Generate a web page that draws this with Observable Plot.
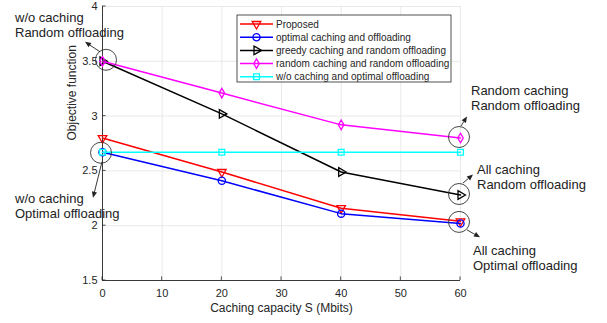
<!DOCTYPE html>
<html>
<head>
<meta charset="utf-8">
<script src="https://cdn.jsdelivr.net/npm/d3@7"></script>
<script src="https://cdn.jsdelivr.net/npm/@observablehq/plot@0.6"></script>
<style>
  html, body { margin: 0; padding: 0; background: #fff; }
  #chart { position: relative; width: 607px; height: 323px; }
  svg { font-family: "Liberation Sans", Arial, sans-serif; }
</style>
</head>
<body>
<div id="chart"></div>
<script>
// ---- data ----
const xValues = [0, 20, 40, 60];
const proposed = [2.80, 2.49, 2.16, 2.04];
const optimalCO = [2.67, 2.41, 2.11, 2.02];
const greedyCR = [3.50, 3.02, 2.49, 2.28];
const randomCR = [3.50, 3.21, 2.92, 2.80];
const noCachingOpt = [2.67, 2.67, 2.67, 2.67];
const seriesNames = [
  "Proposed",
  "optimal caching and offloading",
  "greedy caching and random offloading",
  "random caching and random offloading",
  "w/o caching and optimal offloading"
];
const seriesColors = ["#ff0000", "#0000ff", "#000000", "#ff00ff", "#00ffff"];
const xTicks = [0, 10, 20, 30, 40, 50, 60];
const yTicks = [1.5, 2, 2.5, 3, 3.5, 4];
const xLabel = "Caching capacity S (Mbits)";
const yLabel = "Objective function";

// annotations: data point, circle offset, arrow start/end offsets, text offset & lines
const annotations = [
  {x: 0, y: 3.5, c: [4, -1], a0: [-2, -9], a1: [-17, -19], t: [-87, -39], lines: ["w/o caching", "Random offloading"]},
  {x: 0, y: 2.67, c: [-1, 1], a0: [0, 10], a1: [-9, 46], t: [-87, 51], lines: ["w/o caching", "Optimal offloading"]},
  {x: 60, y: 2.80, c: [-1, -0.5], a0: [1, -11.5], a1: [7, -21], t: [11, -43], lines: ["Random caching", "Random offloading"]},
  {x: 60, y: 2.28, c: [-1, -0.5], a0: [3, -11.5], a1: [13, -20], t: [17, -21], lines: ["All caching", "Random offloading"]},
  {x: 60, y: 2.03, c: [-1, 0], a0: [7, 8], a1: [20, 15.4], t: [13, 33], lines: ["All caching", "Optimal offloading"]}
];

// ---- symbols ----
const sqrt3 = Math.sqrt(3);
const triangleDown = {
  draw(ctx, size) {
    const y = -Math.sqrt(size / (sqrt3 * 3));
    ctx.moveTo(0, -y * 2);
    ctx.lineTo(-sqrt3 * y, y);
    ctx.lineTo(sqrt3 * y, y);
    ctx.closePath();
  }
};
const triangleRight = {
  draw(ctx, size) {
    const y = -Math.sqrt(size / (sqrt3 * 3));
    ctx.moveTo(-y * 2, 0);
    ctx.lineTo(y, sqrt3 * y);
    ctx.lineTo(y, -sqrt3 * y);
    ctx.closePath();
  }
};
const seriesSymbols = [triangleDown, d3.symbolCircle, triangleRight, d3.symbolDiamond, d3.symbolSquare];
const seriesR = [3.2, 3.6, 3.2, 2.9, 3.3];
const allValues = [proposed, optimalCO, greedyCR, randomCR, noCachingOpt];

const rows = [];
allValues.forEach((vals, i) => vals.forEach((v, j) => rows.push({series: seriesNames[i], x: xValues[j], y: v})));

const gridColor = "#e3e3e3";
const axisColor = "#262626";

const marks = [
  Plot.ruleX(xTicks, {stroke: gridColor, strokeWidth: 0.8}),
  Plot.ruleY(yTicks, {stroke: gridColor, strokeWidth: 0.8}),
  Plot.ruleX([0], {stroke: axisColor, strokeWidth: 0.9}),
  Plot.ruleY([1.5], {stroke: axisColor, strokeWidth: 0.9}),
  Plot.axisX({ticks: xTicks, tickSize: 0, tickPadding: 9, fontSize: 11, color: axisColor, label: null, tickFormat: d => String(d)}),
  Plot.axisY({ticks: yTicks, tickSize: 0, tickPadding: 5, fontSize: 11, color: axisColor, label: null, tickFormat: d => String(d)}),
  Plot.text([xLabel], {frameAnchor: "bottom", lineAnchor: "middle", dy: 28, fontSize: 12, fill: axisColor}),
  Plot.text([yLabel], {frameAnchor: "left", lineAnchor: "middle", dx: -30, dy: -3, rotate: -90, fontSize: 12, fill: axisColor})
];
seriesNames.forEach((name, i) => {
  const data = rows.filter(r => r.series === name);
  marks.push(Plot.line(data, {x: "x", y: "y", stroke: seriesColors[i], strokeWidth: 1.5}));
  marks.push(Plot.dot(data, {x: "x", y: "y", symbol: seriesSymbols[i], r: seriesR[i], stroke: seriesColors[i], strokeWidth: 1.3, fill: "none"}));
});

const plot = Plot.plot({
  width: 607,
  height: 323,
  marginLeft: 102,
  marginRight: 147,
  marginTop: 6,
  marginBottom: 43,
  x: {type: "linear", domain: [0, 60]},
  y: {type: "linear", domain: [1.5, 4]},
  style: {fontFamily: "'Liberation Sans', Arial, sans-serif", background: "#fff"},
  marks
});
document.getElementById("chart").appendChild(plot);

const svg = d3.select(plot);
const sx = plot.scale("x").apply, sy = plot.scale("y").apply;

// inward ticks
const tickG = svg.append("g").attr("stroke", axisColor).attr("stroke-width", 0.8);
xTicks.forEach(t => tickG.append("line").attr("x1", sx(t)).attr("x2", sx(t)).attr("y1", sy(1.5)).attr("y2", sy(1.5) - 3.6));
yTicks.forEach(t => tickG.append("line").attr("x1", sx(0)).attr("x2", sx(0) + 3.6).attr("y1", sy(t)).attr("y2", sy(t)));

// annotations
const annG = svg.append("g").attr("text-anchor", "start");
annotations.forEach(a => {
  const px = sx(a.x), py = sy(a.y);
  annG.append("circle").attr("cx", px + a.c[0]).attr("cy", py + a.c[1]).attr("r", 10.5)
    .attr("fill", "none").attr("stroke", "#333").attr("stroke-width", 0.9);
  const x0 = px + a.a0[0], y0 = py + a.a0[1], x1 = px + a.a1[0], y1 = py + a.a1[1];
  const ang = Math.atan2(y1 - y0, x1 - x0);
  const hl = 6, hw = 2.6;
  const bx = x1 - hl * Math.cos(ang), by = y1 - hl * Math.sin(ang);
  annG.append("line").attr("x1", x0).attr("y1", y0).attr("x2", bx).attr("y2", by)
    .attr("stroke", "#222").attr("stroke-width", 0.9);
  annG.append("path").attr("d", `M${x1},${y1}L${bx - hw * Math.sin(ang)},${by + hw * Math.cos(ang)}L${bx + hw * Math.sin(ang)},${by - hw * Math.cos(ang)}Z`)
    .attr("fill", "#222");
  a.lines.forEach((ln, k) => {
    annG.append("text").attr("x", px + a.t[0]).attr("y", py + a.t[1] + k * 15)
      .attr("font-size", 13).attr("fill", "#222").text(ln);
  });
});

// legend
const lg = svg.append("g").attr("transform", "translate(237,15)").attr("text-anchor", "start");
lg.append("rect").attr("width", 214).attr("height", 67).attr("fill", "#fff").attr("stroke", axisColor).attr("stroke-width", 0.8);
seriesNames.forEach((name, i) => {
  const yy = 9 + i * 13.2;
  lg.append("line").attr("x1", 3).attr("x2", 36).attr("y1", yy).attr("y2", yy).attr("stroke", seriesColors[i]).attr("stroke-width", 1.5);
  lg.append("path").attr("transform", `translate(19.5,${yy})`)
    .attr("d", d3.symbol().type(seriesSymbols[i]).size(seriesR[i] * seriesR[i] * Math.PI)())
    .attr("fill", "none").attr("stroke", seriesColors[i]).attr("stroke-width", 1.3);
  lg.append("text").attr("x", 39).attr("y", yy).attr("dy", "0.35em").attr("font-size", 10).attr("fill", axisColor).text(name);
});
</script>
</body>
</html>
